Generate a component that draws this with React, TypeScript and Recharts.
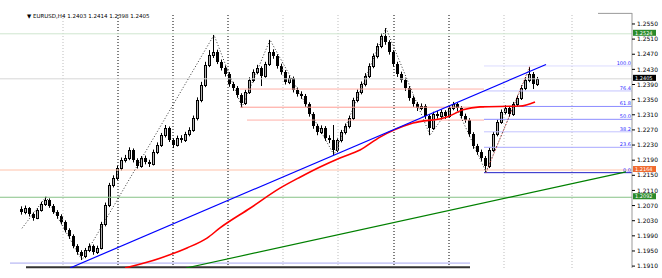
import React from 'react';
import { ComposedChart, XAxis, YAxis, Bar, Line, ReferenceLine } from 'recharts';

// H4 bars, one index per bar
const opens = [
  1.2060, 1.2053, 1.2063, 1.2048, 1.2037, 1.2058, 1.2074, 1.2085, 1.2069, 1.2053,
  1.2042, 1.2026, 1.2005, 1.1989, 1.1963, 1.1947, 1.1936, 1.1952, 1.1963, 1.1947,
  1.1958, 1.2021, 1.2071, 1.2124, 1.2143, 1.2169, 1.2190, 1.2196, 1.2217, 1.2190,
  1.2174, 1.2196, 1.2185, 1.2180, 1.2212, 1.2230, 1.2256, 1.2275, 1.2243, 1.2230,
  1.2249, 1.2243, 1.2259, 1.2270, 1.2301, 1.2349, 1.2389, 1.2442, 1.2468, 1.2476,
  1.2450, 1.2434, 1.2418, 1.2391, 1.2381, 1.2362, 1.2341, 1.2370, 1.2402, 1.2423,
  1.2434, 1.2413, 1.2444, 1.2476, 1.2465, 1.2439, 1.2423, 1.2397, 1.2407, 1.2376,
  1.2365, 1.2360, 1.2338, 1.2312, 1.2280, 1.2264, 1.2275, 1.2249, 1.2243, 1.2217,
  1.2243, 1.2264, 1.2280, 1.2301, 1.2349, 1.2370, 1.2391, 1.2413, 1.2439, 1.2465,
  1.2492, 1.2518, 1.2502, 1.2476, 1.2444, 1.2418, 1.2402, 1.2381, 1.2354, 1.2338,
  1.2328, 1.2333, 1.2307, 1.2275, 1.2312, 1.2307, 1.2317, 1.2307, 1.2328, 1.2338,
  1.2328, 1.2307, 1.2296, 1.2259, 1.2227, 1.2212, 1.2196, 1.2174, 1.2217, 1.2259,
  1.2291, 1.2317, 1.2328, 1.2312, 1.2338, 1.2354, 1.2381, 1.2402, 1.2418, 1.2391,
];
const highs = [
  1.2068, 1.2070, 1.2066, 1.2052, 1.2063, 1.2080, 1.2093, 1.2089, 1.2074, 1.2058,
  1.2047, 1.2031, 1.2010, 1.1994, 1.1968, 1.1952, 1.1958, 1.1970, 1.1967, 1.1964,
  1.2027, 1.2078, 1.2130, 1.2150, 1.2176, 1.2197, 1.2204, 1.2224, 1.2221, 1.2195,
  1.2201, 1.2202, 1.2191, 1.2218, 1.2237, 1.2262, 1.2283, 1.2279, 1.2248, 1.2255,
  1.2256, 1.2265, 1.2277, 1.2308, 1.2356, 1.2397, 1.2450, 1.2481, 1.2521, 1.2482,
  1.2456, 1.2440, 1.2423, 1.2397, 1.2386, 1.2367, 1.2376, 1.2409, 1.2430, 1.2442,
  1.2438, 1.2450, 1.2508, 1.2483, 1.2470, 1.2445, 1.2428, 1.2414, 1.2411, 1.2382,
  1.2372, 1.2365, 1.2343, 1.2317, 1.2286, 1.2282, 1.2280, 1.2256, 1.2283, 1.2249,
  1.2270, 1.2287, 1.2308, 1.2355, 1.2377, 1.2398, 1.2420, 1.2446, 1.2472, 1.2499,
  1.2526, 1.2539, 1.2507, 1.2481, 1.2450, 1.2424, 1.2408, 1.2386, 1.2360, 1.2344,
  1.2340, 1.2338, 1.2312, 1.2318, 1.2320, 1.2324, 1.2322, 1.2335, 1.2344, 1.2342,
  1.2333, 1.2313, 1.2301, 1.2264, 1.2233, 1.2218, 1.2201, 1.2223, 1.2265, 1.2297,
  1.2324, 1.2335, 1.2333, 1.2344, 1.2361, 1.2388, 1.2409, 1.2436, 1.2423, 1.2410,
];
const lows = [
  1.2046, 1.2047, 1.2041, 1.2030, 1.2034, 1.2054, 1.2069, 1.2064, 1.2048, 1.2035,
  1.2020, 1.1999, 1.1982, 1.1957, 1.1940, 1.1926, 1.1931, 1.1947, 1.1940, 1.1942,
  1.1954, 1.2015, 1.2066, 1.2118, 1.2137, 1.2163, 1.2184, 1.2190, 1.2184, 1.2168,
  1.2170, 1.2179, 1.2172, 1.2176, 1.2206, 1.2225, 1.2250, 1.2238, 1.2222, 1.2226,
  1.2236, 1.2238, 1.2253, 1.2265, 1.2295, 1.2343, 1.2383, 1.2436, 1.2460, 1.2444,
  1.2427, 1.2411, 1.2384, 1.2373, 1.2355, 1.2330, 1.2336, 1.2365, 1.2396, 1.2417,
  1.2386, 1.2408, 1.2439, 1.2458, 1.2432, 1.2416, 1.2390, 1.2391, 1.2369, 1.2358,
  1.2352, 1.2331, 1.2305, 1.2273, 1.2256, 1.2259, 1.2241, 1.2235, 1.2204, 1.2211,
  1.2237, 1.2258, 1.2274, 1.2296, 1.2343, 1.2364, 1.2385, 1.2407, 1.2433, 1.2459,
  1.2486, 1.2495, 1.2469, 1.2437, 1.2410, 1.2395, 1.2373, 1.2347, 1.2331, 1.2320,
  1.2322, 1.2299, 1.2256, 1.2270, 1.2300, 1.2301, 1.2299, 1.2302, 1.2322, 1.2320,
  1.2300, 1.2289, 1.2252, 1.2220, 1.2204, 1.2188, 1.2159, 1.2169, 1.2212, 1.2253,
  1.2286, 1.2311, 1.2305, 1.2307, 1.2332, 1.2349, 1.2375, 1.2396, 1.2378, 1.2386,
];
const closes = [
  1.2053, 1.2063, 1.2048, 1.2037, 1.2058, 1.2074, 1.2085, 1.2069, 1.2053, 1.2042,
  1.2026, 1.2005, 1.1989, 1.1963, 1.1947, 1.1936, 1.1952, 1.1963, 1.1947, 1.1958,
  1.2021, 1.2071, 1.2124, 1.2143, 1.2169, 1.2190, 1.2196, 1.2217, 1.2190, 1.2174,
  1.2196, 1.2185, 1.2180, 1.2212, 1.2230, 1.2256, 1.2275, 1.2243, 1.2230, 1.2249,
  1.2243, 1.2259, 1.2270, 1.2301, 1.2349, 1.2389, 1.2442, 1.2468, 1.2476, 1.2450,
  1.2434, 1.2418, 1.2391, 1.2381, 1.2362, 1.2341, 1.2370, 1.2402, 1.2423, 1.2434,
  1.2413, 1.2444, 1.2476, 1.2465, 1.2439, 1.2423, 1.2397, 1.2407, 1.2376, 1.2365,
  1.2360, 1.2338, 1.2312, 1.2280, 1.2264, 1.2275, 1.2249, 1.2243, 1.2217, 1.2243,
  1.2264, 1.2280, 1.2301, 1.2349, 1.2370, 1.2391, 1.2413, 1.2439, 1.2465, 1.2492,
  1.2518, 1.2502, 1.2476, 1.2444, 1.2418, 1.2402, 1.2381, 1.2354, 1.2338, 1.2328,
  1.2333, 1.2307, 1.2275, 1.2312, 1.2307, 1.2317, 1.2307, 1.2328, 1.2338, 1.2328,
  1.2307, 1.2296, 1.2259, 1.2227, 1.2212, 1.2196, 1.2174, 1.2217, 1.2259, 1.2291,
  1.2317, 1.2328, 1.2312, 1.2338, 1.2354, 1.2381, 1.2402, 1.2418, 1.2391, 1.2405,
];

const yTicks = [
  1.2550, 1.2510, 1.2470, 1.2430, 1.2390, 1.2350, 1.2310, 1.2270, 1.2230,
  1.2190, 1.2150, 1.2110, 1.2070, 1.2030, 1.1990, 1.1950, 1.1910,
];

// moving average (red)
const maIdx = [25.75, 34.5, 41.25, 46.25, 49.5, 57, 64.5, 69.5, 74.5, 79.5, 84.5, 89.5, 97.75, 106.25, 110.25, 114.5, 124.5, 128.25];
const maVal = [1.1905, 1.1931, 1.1958, 1.1984, 1.2011, 1.2063, 1.2116, 1.2145, 1.2172, 1.2196, 1.2217, 1.2251, 1.2288, 1.2304, 1.2323, 1.2331, 1.2333, 1.2344];

// zigzag swing points
const zzIdx = [0, 6, 15, 48, 55, 62, 78, 91, 102, 108, 116, 127];
const zzVal = [1.2010, 1.2093, 1.1926, 1.2521, 1.2330, 1.2508, 1.2204, 1.2539, 1.2256, 1.2344, 1.2159, 1.2436];

const blueTrend = [{ i: 12, p: 1.1905 }, { i: 131, p: 1.2443 }];
const greenTrend = [{ i: 41, p: 1.1905 }, { i: 151, p: 1.2159 }];
const fibRay = [{ i: 116, p: 1.2156 }, { i: 127, p: 1.2440 }];

const fibNames = ['100.0', '76.4', '61.8', '50.0', '38.2', '23.6', '0.0'];
const fibPrices = [1.2439, 1.2373, 1.2332, 1.2298, 1.2265, 1.2224, 1.2157];
const fibColors = ['#dcdcff', '#c4c4ff', '#8c8cff', '#8c8cff', '#c4c4ff', '#a8a8ff', '#2020c8'];

const darkGrid = [24, 37.75, 51.5, 93, 106.75];
const lightGrid = [10.25, 65.25, 79, 120.5, 137.5];

const candles = closes.map((c, i) => ({
  i,
  range: [lows[i], highs[i]],
  o: opens[i],
  h: highs[i],
  l: lows[i],
  c,
}));
const maData = maIdx.map((i, k) => ({ i, p: maVal[k] }));
const zzData = zzIdx.map((i, k) => ({ i, p: zzVal[k] }));

const X0 = -5.5;
const X1 = 152.5;

const Candle = (props: any) => {
  const { x, y, width, height, payload } = props;
  if (!payload) return null;
  const { o, h, l, c } = payload;
  const px = Math.round(x + width / 2 - 0.5);
  const span = h - l || 1;
  const toY = (v: number) => y + ((h - v) / span) * height;
  const top = Math.round(toY(Math.max(o, c)));
  const bot = Math.round(toY(Math.min(o, c)));
  const bh = Math.max(bot - top, 1);
  return (
    <g>
      <line x1={px + 0.5} x2={px + 0.5} y1={y} y2={y + height} stroke="#000" />
      {c >= o ? (
        <rect x={px - 0.5} y={top + 0.5} width={2} height={bh} fill="#b4b4b4" stroke="#000" />
      ) : (
        <rect x={px - 1} y={top} width={3} height={bh} fill="#000" />
      )}
    </g>
  );
};

const priceTag = (bg: string) => (props: any) => {
  const vb = props.viewBox;
  if (!vb) return null;
  const x = vb.x + vb.width + 1;
  const y = vb.y - 1;
  return (
    <g>
      <rect x={x} y={y - 3} width={23} height={6} fill={bg} />
      <text x={x + 2} y={y + 2} fontSize={5} fill="#fff" fontFamily="DejaVu Sans">
        {props.value}
      </text>
    </g>
  );
};

const fibLabel = (props: any) => {
  const vb = props.viewBox;
  if (!vb) return null;
  return (
    <text x={vb.x + vb.width - 1} y={vb.y - 1} fontSize={5} fill="#2a2aff" textAnchor="end" fontFamily="DejaVu Sans">
      {props.value}
    </text>
  );
};

export default function App() {
  return (
    <div style={{ position: 'fixed', left: 0, top: 0, width: 662, height: 278, background: '#fff' }}>
      <div
        style={{
          position: 'absolute', left: 27, top: 13, fontSize: 5.5, lineHeight: '7px',
          fontFamily: 'DejaVu Sans', color: '#000', whiteSpace: 'nowrap', zIndex: 2,
        }}
      >
        ▼ EURUSD,H4 1.2403 1.2414 1.2398 1.2405
      </div>
      <ComposedChart width={662} height={278} data={candles} margin={{ top: 13, right: 0, bottom: 10, left: 0 }}>
        <XAxis type="number" dataKey="i" domain={[X0, X1]} hide allowDataOverflow />
        <YAxis
          orientation="right"
          type="number"
          domain={[1.1905, 1.2579]}
          allowDataOverflow
          ticks={yTicks}
          interval={0}
          width={30}
          tickSize={3}
          tickMargin={2}
          tickFormatter={(v: number) => v.toFixed(4)}
          tick={{ fontSize: 6, fill: '#000', fontFamily: 'DejaVu Sans', textAnchor: 'start' }}
          axisLine={{ stroke: '#999' }}
          tickLine={{ stroke: '#000' }}
        />

        {lightGrid.map((g) => (
          <ReferenceLine key={`lg${g}`} x={g} stroke="#bdbdbd" strokeDasharray="1 2" />
        ))}
        {darkGrid.map((g) => (
          <ReferenceLine key={`dg${g}`} x={g} stroke="#000" strokeDasharray="1 2" />
        ))}

        {/* full width horizontal levels */}
        <ReferenceLine y={1.2524} stroke="#cfe6cf" label={{ value: '1.2524', content: priceTag('#2a8a2a') }} />
        <ReferenceLine y={1.2405} stroke="#d6d6d6" label={{ value: '1.2405', content: priceTag('#000') }} />
        <ReferenceLine y={1.2164} stroke="#ffc2aa" label={{ value: '1.2164', content: priceTag('#f06a30') }} />
        <ReferenceLine y={1.2092} stroke="#86c286" label={{ value: '1.2092', content: priceTag('#2a8a2a') }} />

        {/* partial levels */}
        <ReferenceLine segment={[{ x: 54.5, y: 1.2378 }, { x: 115.5, y: 1.2378 }]} stroke="#ffb0a8" />
        <ReferenceLine segment={[{ x: 54.5, y: 1.2330 }, { x: 115.5, y: 1.2330 }]} stroke="#ff9c94" />
        <ReferenceLine segment={[{ x: 56.25, y: 1.2296 }, { x: 115.5, y: 1.2296 }]} stroke="#ffb0a8" />
        <ReferenceLine segment={[{ x: -3, y: 1.1918 }, { x: 112, y: 1.1918 }]} stroke="#a8a8f0" />
        <ReferenceLine segment={[{ x: 1, y: 1.1907 }, { x: 112, y: 1.1907 }]} stroke="#333" strokeWidth={2} />
        <ReferenceLine segment={[{ x: 144, y: 1.2578 }, { x: X1, y: 1.2578 }]} stroke="#999" />

        {/* fibonacci retracement */}
        {fibPrices.map((p, k) => (
          <ReferenceLine
            key={`fib${k}`}
            segment={[{ x: 115.5, y: p }, { x: X1, y: p }]}
            stroke={fibColors[k]}
            label={{ value: fibNames[k], content: fibLabel }}
          />
        ))}

        <Bar dataKey="range" barSize={3} shape={<Candle />} isAnimationActive={false} />

        <Line data={zzData} dataKey="p" type="linear" stroke="#000" strokeWidth={0.8} strokeDasharray="1 2" dot={false} isAnimationActive={false} />
        <Line data={fibRay} dataKey="p" type="linear" stroke="#e03030" strokeWidth={0.8} strokeDasharray="1 2" dot={false} isAnimationActive={false} />
        <Line data={maData} dataKey="p" type="monotone" stroke="#ff0000" strokeWidth={1.6} dot={false} isAnimationActive={false} />
        <Line data={blueTrend} dataKey="p" type="linear" stroke="#0000ff" strokeWidth={1.2} dot={false} isAnimationActive={false} />
        <Line data={greenTrend} dataKey="p" type="linear" stroke="#008000" strokeWidth={1.2} dot={false} isAnimationActive={false} />
      </ComposedChart>
    </div>
  );
}
